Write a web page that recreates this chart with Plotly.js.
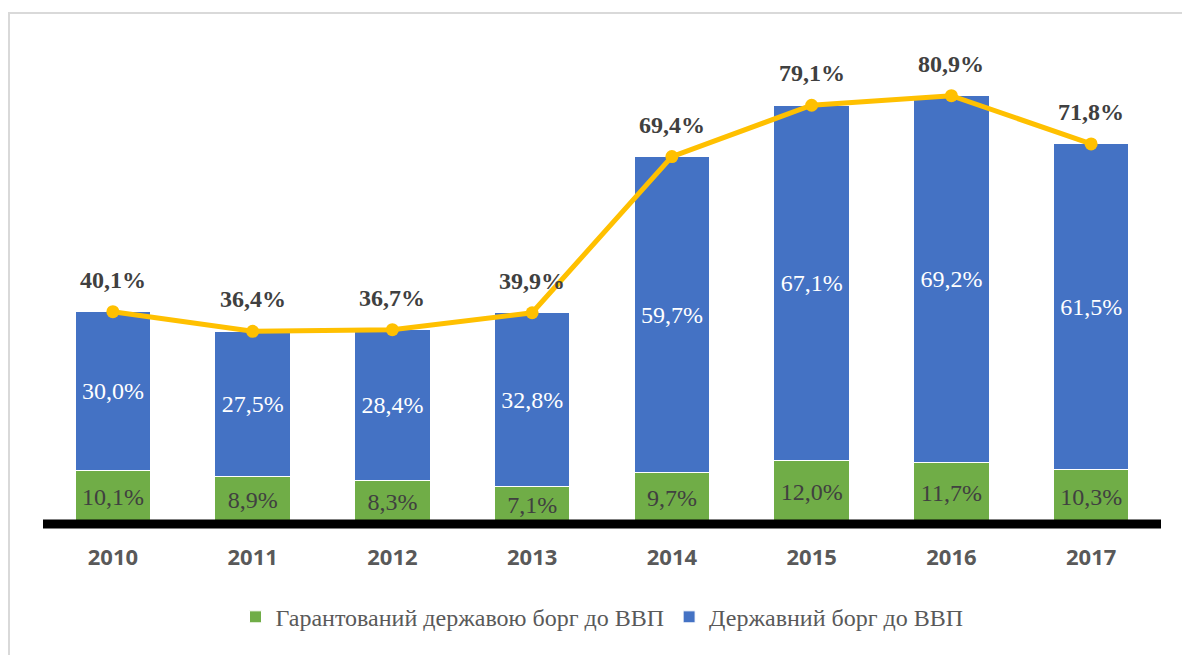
<!DOCTYPE html>
<html>
<head>
<meta charset="utf-8">
<script src="https://cdn.plot.ly/plotly-3.0.1.min.js"></script>
<style>
  html, body { margin: 0; padding: 0; background: #ffffff; }
  #chart { width: 1182px; height: 655px; }
  #frame { position: absolute; left: 8px; top: 12px; width: 1300px; height: 800px;
           border-left: 2px solid #d9d9d9; border-top: 2px solid #d9d9d9; pointer-events: none; }
</style>
</head>
<body>
<div id="chart"></div>
<div id="frame"></div>
<script>
const years = ['2010', '2011', '2012', '2013', '2014', '2015', '2016', '2017'];
const guaranteedDebt = [10.1, 8.9, 8.3, 7.1, 9.7, 12.0, 11.7, 10.3];
const stateDebt = [30.0, 27.5, 28.4, 32.8, 59.7, 67.1, 69.2, 61.5];
const totalDebt = [40.1, 36.4, 36.7, 39.9, 69.4, 79.1, 80.9, 71.8];
const seriesNames = ['Гарантований державою борг до ВВП', 'Державний борг до ВВП'];

const fmt = v => v.toFixed(1).replace('.', ',') + '%';
const SERIF = 'Liberation Serif';

const traces = [
  {
    type: 'bar', name: seriesNames[0], x: years, y: guaranteedDebt,
    text: guaranteedDebt.map(fmt), textposition: 'inside', insidetextanchor: 'middle',
    textfont: { family: SERIF, size: 24, color: '#404040' },
    marker: { color: '#70AD47', line: { color: '#ffffff', width: 1 } },
    width: 0.54, hoverinfo: 'skip'
  },
  {
    type: 'bar', name: seriesNames[1], x: years, y: stateDebt,
    text: stateDebt.map(fmt), textposition: 'inside', insidetextanchor: 'middle',
    textfont: { family: SERIF, size: 24, color: '#ffffff' },
    marker: { color: '#4472C4', line: { color: '#ffffff', width: 1 } },
    width: 0.54, hoverinfo: 'skip'
  },
  {
    type: 'scatter', mode: 'lines+markers', x: years, y: totalDebt, showlegend: false,
    line: { color: '#FFC000', width: 5 },
    marker: { color: '#FFC000', size: 13 }, hoverinfo: 'skip', cliponaxis: false
  }
];

// category axis: annotation x given as category index
const annotations = years.map((yr, i) => ({
  x: i, y: totalDebt[i], xref: 'x', yref: 'y', text: fmt(totalDebt[i]),
  showarrow: false, yshift: 32,
  font: { family: SERIF, size: 24, color: '#404040', weight: 'bold' }
}));

const layout = {
  width: 1182, height: 655,
  margin: { l: 43, r: 21, t: 20, b: 131 },
  barmode: 'stack',
  paper_bgcolor: '#ffffff', plot_bgcolor: '#ffffff',
  xaxis: {
    type: 'category', range: [-0.5, 7.5], showgrid: false, zeroline: false, showline: false,
    ticks: '', ticklabelstandoff: 18,
    tickfont: { family: 'Open Sans', size: 22, color: '#595959', weight: 'bold' }
  },
  yaxis: { range: [0, 95.2], visible: false, showgrid: false, zeroline: false, fixedrange: true },
  showlegend: true,
  legend: {
    orientation: 'h', x: 0.5, xanchor: 'center', y: -0.185, yanchor: 'middle',
    traceorder: 'normal', itemwidth: 30,
    font: { family: SERIF, size: 24, color: '#595959' }
  },
  shapes: [
    { type: 'line', xref: 'paper', yref: 'paper', x0: 0, x1: 1, y0: 0, y1: 0,
      line: { color: '#000000', width: 9 }, layer: 'above' }
  ],
  annotations: annotations
};

Plotly.newPlot('chart', traces, layout, { displayModeBar: false, staticPlot: true });
</script>
</body>
</html>
